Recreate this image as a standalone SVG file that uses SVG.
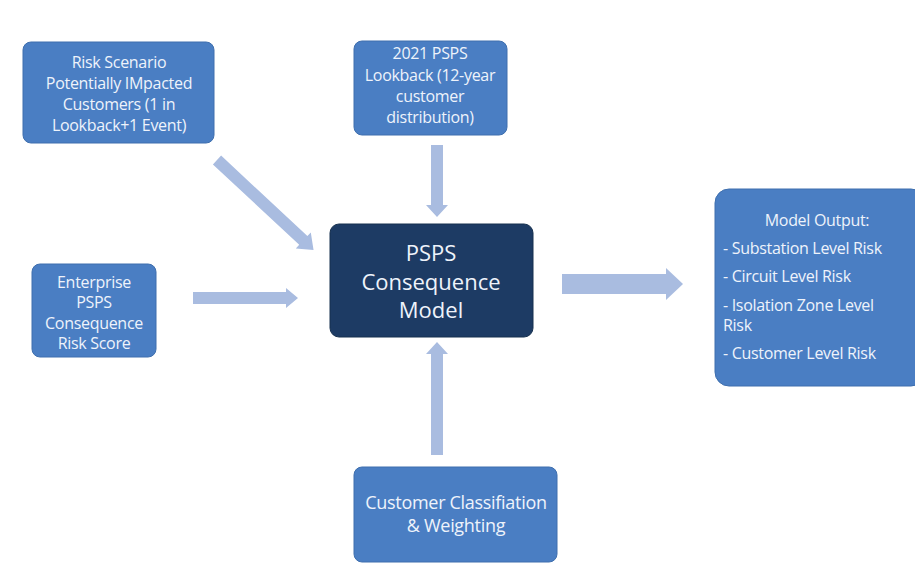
<svg xmlns="http://www.w3.org/2000/svg" width="915" height="571" viewBox="0 0 915 571">
<style>
.box{fill:#4a7ec3;stroke:#3f6fae;stroke-width:1}
.dark{fill:#1d3b64;stroke:#17314f;stroke-width:1}
.t{font-family:"Open Sans","Liberation Sans",sans-serif;fill:#eef3fb;text-anchor:middle}
.s{font-size:16px;letter-spacing:-0.3px}
.l{text-anchor:start}
.arr{fill:#a9bce0}
</style>
<rect width="915" height="571" fill="#ffffff"/>
<g id="connectors">
<polygon class="arr" transform="translate(217,160) rotate(43)" points="0,-6 118,-6 118,-11 132,0 118,11 118,6 0,6"/>
<polygon class="arr" points="193,292 286,292 286,288 298,298 286,308 286,304 193,304"/>
<polygon class="arr" points="431,145 443,145 443,205 448,205 437,217 426,205 431,205"/>
<polygon class="arr" points="431,455 443,455 443,354 448,354 437,342 426,354 431,354"/>
<polygon class="arr" points="562,274 666,274 666,268 683,284 666,300 666,294 562,294"/>
</g>
<g id="risk-scenario">
<rect class="box" x="23" y="42" width="191" height="101" rx="8"/>
<text class="t s" x="119" y="68">Risk Scenario</text>
<text class="t s" x="119" y="89">Potentially IMpacted</text>
<text class="t s" x="119" y="110">Customers (1 in</text>
<text class="t s" x="119" y="131">Lookback+1 Event)</text>
</g>
<g id="lookback">
<rect class="box" x="354" y="41" width="153" height="94" rx="8"/>
<text class="t s" x="430" y="59">2021 PSPS</text>
<text class="t s" x="430" y="81">Lookback (12-year</text>
<text class="t s" x="430" y="102">customer</text>
<text class="t s" x="430" y="123">distribution)</text>
</g>
<g id="enterprise">
<rect class="box" x="32" y="264" width="124" height="93" rx="8"/>
<text class="t s" x="94" y="288">Enterprise</text>
<text class="t s" x="94" y="308">PSPS</text>
<text class="t s" x="94" y="329">Consequence</text>
<text class="t s" x="94" y="349">Risk Score</text>
</g>
<g id="model">
<rect class="dark" x="330" y="224" width="203" height="113" rx="9"/>
<text class="t" x="431" y="261" font-size="22">PSPS</text>
<text class="t" x="431" y="290" font-size="22">Consequence</text>
<text class="t" x="431" y="318" font-size="22">Model</text>
</g>
<g id="output">
<rect class="box" x="715" y="189" width="210" height="197" rx="14"/>
<text class="t s" x="817" y="226">Model Output:</text>
<text class="t s l" x="723" y="254">- Substation Level Risk</text>
<text class="t s l" x="723" y="282">- Circuit Level Risk</text>
<text class="t s l" x="723" y="311">- Isolation Zone Level</text>
<text class="t s l" x="723" y="331">Risk</text>
<text class="t s l" x="723" y="359">- Customer Level Risk</text>
</g>
<g id="classification">
<rect class="box" x="354" y="467" width="203" height="95" rx="8"/>
<text class="t" x="456" y="509" font-size="18" letter-spacing="-0.3">Customer Classifiation</text>
<text class="t" x="456" y="532" font-size="18" letter-spacing="-0.3">&amp; Weighting</text>
</g>
</svg>
